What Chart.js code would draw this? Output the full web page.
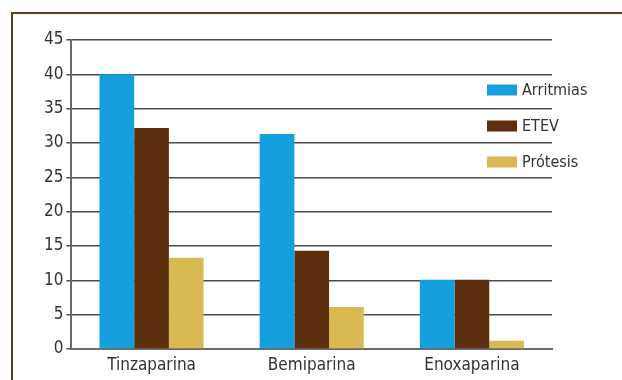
<!DOCTYPE html>
<html>
<head>
<meta charset="utf-8">
<script src="https://cdn.jsdelivr.net/npm/chart.js@4/dist/chart.umd.min.js"></script>
<style>
  html, body { margin: 0; padding: 0; background: #fff; }
  #wrap { position: relative; width: 622px; height: 380px; overflow: hidden; }
  #frame { position: absolute; left: 11px; top: 12px; width: 700px; height: 500px;
           border-top: 2px solid #6b3a1c; border-left: 2px solid #6b3a1c; }
  canvas { position: absolute; left: 0; top: 0; }
</style>
</head>
<body>
<div id="wrap">
  <div id="frame"></div>
  <canvas id="c" width="622" height="380"></canvas>
</div>
<script>
const categories = ['Tinzaparina', 'Bemiparina', 'Enoxaparina'];
const arritmias = [40, 31.3, 10.1];
const etev = [32.2, 14.3, 10.1];
const protesis = [13.3, 6.1, 1.2];
const yTicks = [0, 5, 10, 15, 20, 25, 30, 35, 40, 45];

const FONT = "'Liberation Sans Narrow', 'DejaVu Sans Condensed', 'Roboto', sans-serif";

// Legend drawn inside the plot area, stacked to the right of the bars
const insideLegend = {
  id: 'insideLegend',
  afterDraw(chart) {
    const ctx = chart.ctx;
    const x = chart.chartArea.right - 65;
    let y = 90;
    ctx.save();
    ctx.font = '16px ' + FONT;
    ctx.textBaseline = 'middle';
    chart.data.datasets.forEach(ds => {
      ctx.fillStyle = ds.backgroundColor;
      ctx.fillRect(x, y - 5.5, 30, 11);
      ctx.fillStyle = '#333';
      ctx.fillText(ds.label, x + 35, y + 1);
      y += 36;
    });
    ctx.restore();
  }
};

new Chart(document.getElementById('c'), {
  type: 'bar',
  data: {
    labels: categories,
    datasets: [
      { label: 'Arritmias', data: arritmias, backgroundColor: '#159fdc' },
      { label: 'ETEV', data: etev, backgroundColor: '#5c2f0e' },
      { label: 'Prótesis', data: protesis, backgroundColor: '#d9ba52' }
    ]
  },
  plugins: [insideLegend],
  options: {
    responsive: false,
    animation: false,
    devicePixelRatio: 1,
    layout: { padding: { left: 41, top: 40, right: 70, bottom: 0 } },
    datasets: { bar: { categoryPercentage: 0.65, barPercentage: 1 } },
    plugins: {
      tooltip: { enabled: false },
      legend: { display: false }
    },
    scales: {
      x: {
        afterFit: (scale) => { scale.height = 31; },
        grid: { display: false, drawTicks: false },
        border: { color: '#6a6a6a', width: 2 },
        ticks: { color: '#333', padding: 8, font: { family: FONT, size: 17, lineHeight: 1.0 } }
      },
      y: {
        min: 0, max: 45,
        afterBuildTicks: (axis) => { axis.ticks = yTicks.map(v => ({ value: v })); },
        grid: { color: '#4a4a4a', lineWidth: 1.5, tickLength: 5 },
        border: { color: '#6a6a6a', width: 2 },
        ticks: { color: '#333', padding: 3, font: { family: FONT, size: 17 } }
      }
    }
  }
});
</script>
</body>
</html>
